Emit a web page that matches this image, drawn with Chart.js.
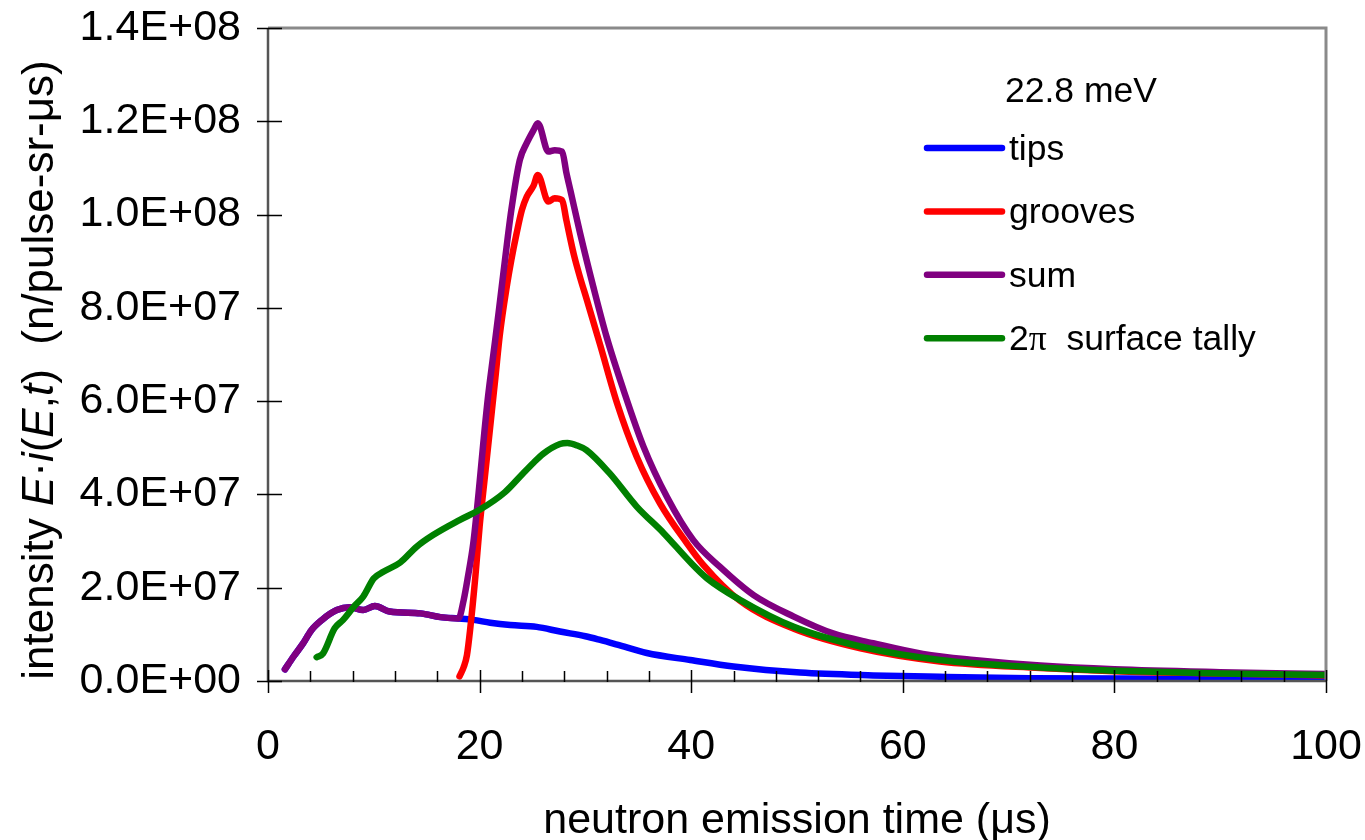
<!DOCTYPE html>
<html>
<head>
<meta charset="utf-8">
<title>22.8 meV emission time</title>
<script src="https://cdn.jsdelivr.net/npm/chart.js@4.4.1/dist/chart.umd.min.js"></script>
<style>
  html,body{margin:0;padding:0;background:#fff;}
  #wrap{position:relative;width:1365px;height:840px;}
</style>
</head>
<body>
<div id="wrap"><canvas id="pulseChart"></canvas></div>
<script>
/* values, intensity in units of 1E+07 */
const UNIT = 1e7;

const tipsT  = [1.6, 2.4, 3.3, 4.1, 5.1, 6.5, 7.75, 9.0, 10.1, 11.5, 14.4, 16.3, 18.0, 19.4, 21.0, 22.9, 25.4, 27.6, 30.0, 31.4, 33.0, 35.8, 39.9, 44.0, 50.3, 57.2, 63.5, 72, 85, 100];
const tipsV  = [0.25, 0.52, 0.80, 1.09, 1.31, 1.52, 1.58, 1.52, 1.61, 1.49, 1.45, 1.37, 1.34, 1.31, 1.25, 1.20, 1.16, 1.06, 0.96, 0.88, 0.78, 0.60, 0.45, 0.31, 0.18, 0.12, 0.09, 0.06, 0.05, 0.04];

const groovesT = [18.1, 18.5, 18.8, 19.1, 19.6, 20.0, 20.5, 21.0, 21.5, 21.9, 22.6, 23.0, 23.5, 24.0, 24.45, 25.1, 25.5, 26.5, 27.1, 27.8, 28.2, 28.9, 29.5, 30.1, 31.4, 33.0, 34.85, 37.05, 39.6, 41.1, 44.6, 49.7, 56.0, 63.5, 73, 80, 90, 100];
const groovesV = [0.10, 0.30, 0.55, 1.09, 2.24, 3.31, 4.38, 5.45, 6.52, 7.40, 8.50, 9.03, 9.60, 10.10, 10.38, 10.62, 10.85, 10.28, 10.35, 10.31, 9.88, 9.15, 8.65, 8.20, 7.20, 5.95, 4.81, 3.81, 2.95, 2.50, 1.72, 1.12, 0.70, 0.42, 0.28, 0.21, 0.16, 0.12];

const sumT = [1.6, 2.4, 3.3, 4.1, 5.1, 6.5, 7.75, 9.0, 10.1, 11.5, 14.4, 16.3, 18.0, 18.5, 18.9, 19.4, 19.9, 20.35, 20.8, 21.3, 21.8, 22.4, 23.0, 23.8, 24.45, 25.1, 25.5, 26.5, 27.1, 27.8, 28.2, 28.6, 29.5, 30.75, 32.0, 33.6, 35.5, 37.7, 40.2, 42.7, 45.9, 49.7, 53.4, 57.2, 61.9, 66.7, 73, 80, 90, 100];
const sumV = [0.25, 0.52, 0.80, 1.09, 1.31, 1.52, 1.58, 1.52, 1.61, 1.49, 1.45, 1.37, 1.34, 1.74, 2.24, 2.95, 4.02, 5.10, 6.10, 7.00, 7.90, 9.03, 10.10, 11.17, 11.53, 11.81, 11.96, 11.35, 11.38, 11.35, 10.90, 10.50, 9.60, 8.45, 7.38, 6.24, 5.02, 3.95, 3.02, 2.45, 1.84, 1.38, 1.02, 0.81, 0.58, 0.45, 0.33, 0.25, 0.19, 0.15];

const surfT = [4.6, 5.2, 6.3, 7.1, 8.1, 9.0, 10.0, 10.9, 12.5, 14.05, 15.6, 18.1, 20.0, 22.4, 24.1, 25.1, 26.0, 27.6, 28.3, 29.2, 30.1, 32.3, 34.85, 37.4, 39.9, 41.5, 44.6, 49.7, 56.0, 63.5, 73, 80, 90, 100];
const surfV = [0.51, 0.59, 1.13, 1.31, 1.59, 1.81, 2.20, 2.34, 2.54, 2.88, 3.13, 3.45, 3.67, 4.05, 4.45, 4.68, 4.87, 5.08, 5.10, 5.05, 4.95, 4.45, 3.74, 3.17, 2.55, 2.20, 1.74, 1.16, 0.74, 0.45, 0.29, 0.22, 0.16, 0.13];

const seriesNames  = ['tips', 'grooves', 'sum', '2π  surface tally'];
const seriesColors = ['#0000FF', '#FF0000', '#800080', '#008000'];
const legendTitle  = '22.8 meV';

const xMin = 0, xMax = 100, xStep = 20, xMinorStep = 4;
const yMin = 0, yMax = 1.4e8, yStep = 2e7;

const FONT = '"Liberation Sans", Arial, Helvetica, sans-serif';

function pts(ts, vs){ return ts.map((t,i)=>({x:t, y:vs[i]*UNIT})); }
function sci(v){
  return v.toExponential(1).toUpperCase().replace(/E([+-])(\d)$/, 'E$10$2');
}

// frame, tick marks (crossing majors, inner minors)
const framePlugin = {
  id:'frameTicks',
  afterDatasetsDraw(chart){
    const {ctx, chartArea:a, scales:{x, y}} = chart;
    ctx.save();
    ctx.lineCap = 'butt';
    ctx.strokeStyle = '#8a8a8a'; ctx.lineWidth = 3;
    ctx.beginPath();
    ctx.moveTo(a.left, a.top); ctx.lineTo(a.right, a.top); ctx.lineTo(a.right, a.bottom);
    ctx.stroke();
    ctx.strokeStyle = '#555'; ctx.lineWidth = 2.5;
    ctx.beginPath();
    ctx.moveTo(a.left, a.top); ctx.lineTo(a.left, a.bottom); ctx.lineTo(a.right, a.bottom);
    ctx.stroke();

    ctx.strokeStyle = '#000'; ctx.lineWidth = 1.5;
    ctx.beginPath();
    for(let v=yMin; v<=yMax+1; v+=yStep){
      const py = Math.round(y.getPixelForValue(v))+0.5;
      ctx.moveTo(a.left-11, py); ctx.lineTo(a.left+14, py);
    }
    for(let v=xMin; v<=xMax; v+=xMinorStep){
      const px = Math.round(x.getPixelForValue(v))+0.5;
      if(v % xStep === 0){ ctx.moveTo(px, a.bottom-11); ctx.lineTo(px, a.bottom+12); }
      else { ctx.moveTo(px, a.bottom-10); ctx.lineTo(px, a.bottom+1); }
    }
    ctx.stroke();
    ctx.restore();
  }
};

// y title with italic symbols
const yTitlePlugin = {
  id:'yTitle',
  afterDraw(chart){
    const ctx = chart.ctx;
    const size = 44;
    const n = `${size}px ${FONT}`, it = `italic ${size}px ${FONT}`;
    const parts = [['intensity ', n], ['E', it], ['·', n], ['i', it], ['(', n], ['E', it], [',', n], ['t', it], [')', n], ['  (n/pulse-sr-μs)', n]];
    ctx.save();
    ctx.fillStyle = '#000';
    ctx.textBaseline = 'middle';
    let total = 0;
    parts.forEach(p=>{ ctx.font = p[1]; total += ctx.measureText(p[0]).width; });
    ctx.translate(41, 370);
    ctx.rotate(-Math.PI/2);
    let cx = -total/2;
    parts.forEach(p=>{ ctx.font = p[1]; ctx.fillText(p[0], cx, 0); cx += ctx.measureText(p[0]).width; });
    ctx.restore();
  }
};

// legend inside the plot, upper right
const legendPlugin = {
  id:'cornerLegend',
  afterDraw(chart){
    const ctx = chart.ctx;
    const x0 = 927, x1 = 1002, tx = 1009;
    const f = `35.5px ${FONT}`;
    ctx.save();
    ctx.fillStyle = '#000';
    ctx.textBaseline = 'middle';
    ctx.font = f;
    ctx.fillText(legendTitle, 1005, 92);
    seriesNames.forEach((name,i)=>{
      const ly = 148 + i*63.4;
      ctx.strokeStyle = seriesColors[i];
      ctx.lineWidth = 6.5; ctx.lineCap = 'round';
      ctx.beginPath(); ctx.moveTo(x0, ly); ctx.lineTo(x1, ly); ctx.stroke();
      let cx = tx;
      name.split(/(π)/).forEach(seg=>{
        if(!seg) return;
        ctx.font = seg === 'π' ? `35.5px "Liberation Serif", "DejaVu Serif", serif` : f;
        ctx.fillText(seg, cx, ly + 2);
        cx += ctx.measureText(seg).width;
      });
    });
    ctx.restore();
  }
};

const seriesData = [pts(tipsT, tipsV), pts(groovesT, groovesV), pts(sumT, sumV), pts(surfT, surfV)];

new Chart(document.getElementById('pulseChart'), {
  type:'line',
  data:{
    datasets: seriesNames.map((name,i)=>({
      label:name,
      data:seriesData[i],
      borderColor:seriesColors[i],
      backgroundColor:seriesColors[i],
      borderWidth:6.5,
      borderCapStyle:'round',
      borderJoinStyle:'round',
      pointRadius:0,
      cubicInterpolationMode:'monotone',
      fill:false,
      order: seriesNames.length - i
    }))
  },
  options:{
    responsive:true, maintainAspectRatio:false, animation:false,
    layout:{ padding:{ left:0, top:28, right:39, bottom:0 } },
    plugins:{ legend:{display:false}, tooltip:{enabled:false} },
    scales:{
      x:{
        type:'linear', min:xMin, max:xMax,
        grid:{display:false, drawTicks:false},
        border:{display:false},
        ticks:{ stepSize:xStep, color:'#000', padding:40, font:{family:FONT, size:43}, maxRotation:0 },
        title:{ display:true, text:'neutron emission time (μs)', color:'#000', font:{family:FONT, size:43, lineHeight:0.9}, padding:{top:0, bottom:0} },
        afterFit(s){ s.height = 159; s.paddingLeft = 0; s.paddingRight = 0; }
      },
      y:{
        type:'linear', min:yMin, max:yMax,
        grid:{display:false, drawTicks:false},
        border:{display:false},
        ticks:{ stepSize:yStep, color:'#000', padding:27, font:{family:FONT, size:43}, callback:v=>sci(v) },
        afterFit(s){ s.width = 268; s.paddingTop = 0; s.paddingBottom = 0; }
      }
    }
  },
  plugins:[framePlugin, yTitlePlugin, legendPlugin]
});
</script>
</body>
</html>
